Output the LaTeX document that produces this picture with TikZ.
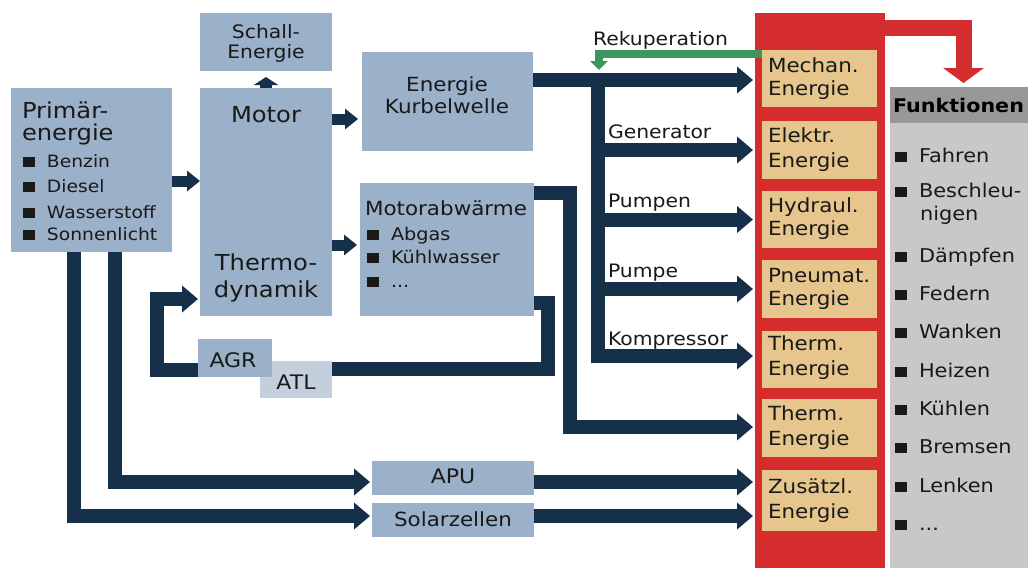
\documentclass[tikz,border=0pt]{standalone}
\usepackage{fontspec}
\setmainfont[FakeStretch=1.1]{DejaVu Sans}
\usetikzlibrary{arrows.meta,calc}
\definecolor{boxblue}{RGB}{155,176,201}
\definecolor{lightblue}{RGB}{196,207,222}
\definecolor{navy}{RGB}{21,48,72}
\definecolor{redcol}{RGB}{213,45,45}
\definecolor{tanbox}{RGB}{230,198,140}
\definecolor{hdrgray}{RGB}{152,152,152}
\definecolor{bodygray}{RGB}{200,200,200}
\definecolor{recgreen}{RGB}{62,150,95}
\definecolor{txtcol}{RGB}{25,25,25}
\newcommand\fsz[1]{\fontsize{#1}{#1}\selectfont}
\newcommand\bsq{\raisebox{0.5pt}{\rule{12pt}{10pt}}\hspace{12pt}}
\begin{document}
\begin{tikzpicture}[x=1pt,y=-1pt,
  box/.style={fill=boxblue, draw=none, anchor=north west, inner sep=0pt, outer sep=0pt},
  lbox/.style={box, fill=lightblue},
  tbox/.style={box, fill=tanbox},
  txt/.style={inner sep=0pt, outer sep=0pt, text=txtcol},
  tl/.style={txt, anchor=base west},
  tc/.style={txt, anchor=base},
  flow/.style={draw=navy, line width=14pt, line join=miter, -{Triangle[width=26pt,length=16pt]}},
  smallflow/.style={draw=navy, line width=11pt, -{Triangle[width=20pt,length=13pt]}},
  feed/.style={draw=navy, line width=14pt, line join=miter},
  rec/.style={draw=recgreen, line width=8pt, line join=miter, -{Triangle[width=17pt,length=9pt]}},
  redarrow/.style={draw=redcol, line width=16pt, line join=miter, -{Triangle[width=40pt,length=15pt]}}
]
\fill[white] (0,0) rectangle (1028,568);
\useasboundingbox (0,0) rectangle (1028,568);

% boxes
\node[box, minimum width=132pt, minimum height=58pt] (schall) at (200,13) {};
\node[box, minimum width=161pt, minimum height=164pt] (prim) at (11,88) {};
\node[box, minimum width=132pt, minimum height=228pt] (motor) at (200,88) {};
\node[box, minimum width=171pt, minimum height=99pt] (kurb) at (362,52) {};
\node[box, minimum width=174pt, minimum height=133pt] (mab) at (360,183) {};
\node[lbox, minimum width=72pt, minimum height=37pt] (atl) at (260,361) {};
\node[box, minimum width=74pt, minimum height=38pt] (agr) at (198,339) {};
\node[box, minimum width=162pt, minimum height=34pt] (apu) at (372,461) {};
\node[box, minimum width=162pt, minimum height=34pt] (solar) at (372,503) {};

\node[box, fill=redcol, minimum width=130pt, minimum height=555pt] (redc) at (755,13) {};
\node[tbox, minimum width=115pt, minimum height=57pt] (mech) at (762,50) {};
\node[tbox, minimum width=115pt, minimum height=58pt] (elek) at (762,121) {};
\node[tbox, minimum width=115pt, minimum height=57pt] (hyd) at (762,191) {};
\node[tbox, minimum width=115pt, minimum height=58pt] (pneu) at (762,260) {};
\node[tbox, minimum width=115pt, minimum height=57pt] (thA) at (762,331) {};
\node[tbox, minimum width=115pt, minimum height=58pt] (thB) at (762,399) {};
\node[tbox, minimum width=115pt, minimum height=61pt] (zus) at (762,470) {};

\node[box, fill=bodygray, minimum width=138pt, minimum height=445pt] (fbody) at (890,123) {};
\node[box, fill=hdrgray, minimum width=138pt, minimum height=36pt] (fhdr) at (890,87) {};

% texts
\node[tc, font=\fsz{18.5}] (t1) at (266,38) {Schall-};
\node[tc, font=\fsz{18.5}] (t2) at (266,58) {Energie};
\node[tl, font=\fsz{22}] (t3) at (22,118) {Primär-};
\node[tl, font=\fsz{22}] (t4) at (22,140) {energie};
\node[tl, font=\fsz{17}] (t5) at (23,167) {\bsq Benzin};
\node[tl, font=\fsz{17}] (t6) at (23,192) {\bsq Diesel};
\node[tl, font=\fsz{17}] (t7) at (23,218) {\bsq Wasserstoff};
\node[tl, font=\fsz{17}] (t8) at (23,240) {\bsq Sonnenlicht};
\node[tc, font=\fsz{22}] (t9) at (266,122) {Motor};
\node[tc, font=\fsz{22}] (t10) at (266,270) {Thermo-};
\node[tc, font=\fsz{22}] (t11) at (266,297) {dynamik};
\node[tc, font=\fsz{19.5}] (t12) at (447,91) {Energie};
\node[tc, font=\fsz{19.5}] (t13) at (447,113) {Kurbelwelle};
\node[tl, font=\fsz{19.5}] (t14) at (365,215) {Motorabwärme};
\node[tl, font=\fsz{17.5}] (t15) at (367,240) {\bsq Abgas};
\node[tl, font=\fsz{17.5}] (t16) at (367,263) {\bsq Kühlwasser};
\node[tl, font=\fsz{17.5}] (t17) at (367,287) {\bsq ...};
\node[tc, font=\fsz{20}] (t18) at (233,367) {AGR};
\node[tc, font=\fsz{20}] (t19) at (296,389) {ATL};
\node[tc, font=\fsz{20}] (t20) at (453,483) {APU};
\node[tc, font=\fsz{19.5}] (t21) at (453,526) {Solarzellen};
\node[tl, font=\fsz{18.5}] (t22) at (593,45) {Rekuperation};
\node[tl, font=\fsz{18.5}] (t23) at (608,138) {Generator};
\node[tl, font=\fsz{18.5}] (t24) at (608,207) {Pumpen};
\node[tl, font=\fsz{18.5}] (t25) at (608,277) {Pumpe};
\node[tl, font=\fsz{18.5}] (t26) at (608,345) {Kompressor};

\node[tl, font=\fsz{19.5}] (e1a) at (768,72) {Mechan.};
\node[tl, font=\fsz{19.5}] (e1b) at (768,95) {Energie};
\node[tl, font=\fsz{19.5}] (e2a) at (768,142) {Elektr.};
\node[tl, font=\fsz{19.5}] (e2b) at (768,167) {Energie};
\node[tl, font=\fsz{19.5}] (e3a) at (768,212) {Hydraul.};
\node[tl, font=\fsz{19.5}] (e3b) at (768,235) {Energie};
\node[tl, font=\fsz{19.5}] (e4a) at (768,282) {Pneumat.};
\node[tl, font=\fsz{19.5}] (e4b) at (768,305) {Energie};
\node[tl, font=\fsz{19.5}] (e5a) at (768,350) {Therm.};
\node[tl, font=\fsz{19.5}] (e5b) at (768,375) {Energie};
\node[tl, font=\fsz{19.5}] (e6a) at (768,420) {Therm.};
\node[tl, font=\fsz{19.5}] (e6b) at (768,445) {Energie};
\node[tl, font=\fsz{19.5}] (e7a) at (768,493) {Zusätzl.};
\node[tl, font=\fsz{19.5}] (e7b) at (768,518) {Energie};

\node[tl, font=\fsz{18.8}\bfseries, text=black] (fh) at (893,112) {Funktionen};
\node[tl, font=\fsz{19}] (f1) at (895,162) {\bsq Fahren};
\node[tl, font=\fsz{19}] (f2) at (895,197) {\bsq Beschleu-};
\node[tl, font=\fsz{19}] (f2b) at (920,220) {nigen};
\node[tl, font=\fsz{19}] (f3) at (895,262) {\bsq Dämpfen};
\node[tl, font=\fsz{19}] (f4) at (895,300) {\bsq Federn};
\node[tl, font=\fsz{19}] (f5) at (895,338) {\bsq Wanken};
\node[tl, font=\fsz{19}] (f6) at (895,377) {\bsq Heizen};
\node[tl, font=\fsz{19}] (f7) at (895,415) {\bsq Kühlen};
\node[tl, font=\fsz{19}] (f8) at (895,453) {\bsq Bremsen};
\node[tl, font=\fsz{19}] (f9) at (895,492) {\bsq Lenken};
\node[tl, font=\fsz{19}] (f10) at (895,530) {\bsq ...};

% connector anchor points
\coordinate (pm) at ([yshift=-11pt]prim.east);
\coordinate (mk) at ($(motor.north east)+(0,31)$);
\coordinate (mm) at ($(motor.north east)+(0,157)$);
\coordinate (kx) at ($(kurb.north east)+(0,28)$);
\coordinate (b0) at (598,73);
\coordinate (kp) at (598,356);
\coordinate (mab1) at ($(mab.north east)+(0,10)$);
\coordinate (thBin) at ($(redc.west |- thB.west)+(0,-1)$);
\coordinate (mab2) at ($(mab.south east)+(0,-13)$);
\coordinate (atlin) at ($(atl.north east)+(0,8)$);
\coordinate (agrout) at ($(agr.north west)+(0,30.5)$);
\coordinate (motin) at ($(motor.south west)+(0,-17)$);
\coordinate (pA) at ([xshift=-17.5pt]prim.south);
\coordinate (pB) at ([xshift=23pt]prim.south);
\coordinate (solin) at ($(solar.west)+(0,-4)$);
\coordinate (apuin) at ($(apu.west)+(0,4)$);
\coordinate (apuout) at ($(apu.east)+(0,4)$);
\coordinate (solout) at ($(solar.east)+(0,-4)$);
\coordinate (gstart) at ($(mech.north west)+(0,4)$);
\coordinate (gend) at ($(b0)+(1,-3)$);
\coordinate (rstart) at ($(redc.north east)+(0,14.5)$);
\coordinate (rend) at ($(fhdr.north west)+(73.5,-4)$);

% connectors
\draw[smallflow] (pm) -- (pm -| motor.west);
\draw[draw=navy, line width=12pt, -{Triangle[width=24pt,length=8pt]}, shorten >=6pt] (motor.north) -- (schall.south);
\draw[smallflow, shorten >=4pt] (mk) -- (mk -| kurb.west);
\draw[smallflow, shorten >=3pt] (mm) -- (mm -| mab.west);

\draw[flow, shorten >=2pt] (kx) -- (kx -| redc.west);
\draw[flow, shorten >=2pt] (b0) -- (kp) -- (kp -| redc.west);
\draw[flow, shorten >=2pt] (b0 |- elek.west) -- (redc.west |- elek.west);
\draw[flow, shorten >=2pt] (b0 |- hyd.west) -- (redc.west |- hyd.west);
\draw[flow, shorten >=2pt] (b0 |- pneu.west) -- (redc.west |- pneu.west);

\draw[flow, shorten >=2pt] (mab1) -- ++(36,0) |- (thBin);
\draw[feed] (mab2) -- ++(14,0) |- (atlin);
\draw[flow, shorten >=2pt] (agrout) -- ++(-41,0) |- (motin);

\draw[flow, shorten >=2pt] (pA) |- (solin);
\draw[flow, shorten >=2pt] (pB) |- (apuin);
\draw[flow, shorten >=2pt] (apuout) -- (apuout -| redc.west);
\draw[flow, shorten >=2pt] (solout) -- (solout -| redc.west);

\draw[rec] (gstart) -| (gend);
\draw[redarrow] (rstart) -| (rend);
\end{tikzpicture}
\end{document}
